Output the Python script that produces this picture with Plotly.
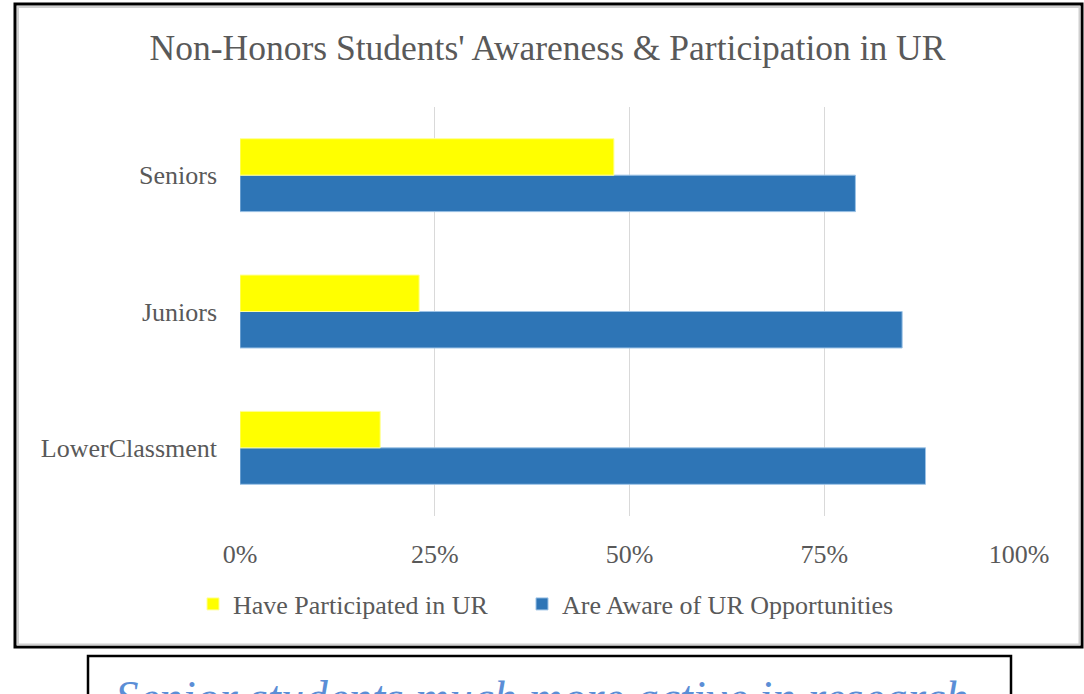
import plotly.graph_objects as go

categories = ["LowerClassment", "Juniors", "Seniors"]
participated = [0.18, 0.23, 0.48]
aware = [0.88, 0.85, 0.79]
series_names = ["Have Participated in UR", "Are Aware of UR Opportunities"]
tick_vals = [0, 0.25, 0.5, 0.75, 1.0]
tick_text = ["0%", "25%", "50%", "75%", "100%"]
title_text = "Non-Honors Students' Awareness & Participation in UR"
caption_text = "Senior students much more active in research"

W, H = 1084, 694
L, R, T, B = 240, 1019, 107, 516


def px(x):
    return (x - L) / (R - L)


def py(y):
    return (B - y) / (B - T)


FONT = "Liberation Serif, Times New Roman, serif"
GRAY = "#595959"

fig = go.Figure()
fig.add_trace(go.Bar(
    y=categories, x=aware, orientation="h", name=series_names[1],
    marker=dict(color="#2E75B6", line=dict(color="#9DC3E6", width=1)),
    legend="legend2",
))
fig.add_trace(go.Bar(
    y=categories, x=participated, orientation="h", name=series_names[0],
    marker=dict(color="#FFFF00", line=dict(color="#FFFF99", width=1)),
    legend="legend",
))

legend_style = dict(orientation="h", yanchor="middle", xanchor="left",
                    font=dict(family=FONT, size=26, color=GRAY),
                    bgcolor="rgba(0,0,0,0)", borderwidth=0)

fig.update_layout(
    width=W, height=H,
    margin=dict(l=L, r=W - R, t=T, b=H - B, pad=0),
    paper_bgcolor="white", plot_bgcolor="white",
    barmode="group", bargap=0.465, bargroupgap=0,
    font=dict(family=FONT, color=GRAY, size=26),
    title=dict(text=title_text, x=547.5 / W, xanchor="center",
               y=1 - 48 / H, yanchor="middle", xref="container", yref="container",
               font=dict(family=FONT, size=35.5, color=GRAY)),
    showlegend=True,
    legend=dict(x=px(193), y=py(604), **legend_style),
    legend2=dict(x=px(522), y=py(604), **legend_style),
    xaxis=dict(range=[0, 1], tickvals=tick_vals, ticktext=tick_text,
               showgrid=True, gridcolor="#D9D9D9", gridwidth=1,
               zeroline=False, showline=False, ticks="", ticklabelstandoff=20,
               tickfont=dict(family=FONT, size=26, color=GRAY)),
    yaxis=dict(showgrid=False, zeroline=False, showline=False, ticks="",
               ticklabelstandoff=22,
               tickfont=dict(family=FONT, size=26, color=GRAY)),
)

shapes = [
    # outer frame
    dict(type="rect", xref="paper", yref="paper",
         x0=px(15), x1=px(1082), y0=py(647), y1=py(4),
         line=dict(color="black", width=3), fillcolor="rgba(0,0,0,0)", layer="above"),
    dict(type="rect", xref="paper", yref="paper",
         x0=px(18), x1=px(1079.5), y0=py(644.5), y1=py(7),
         line=dict(color="#D0D0D0", width=2), fillcolor="rgba(0,0,0,0)", layer="above"),
    # caption box
    dict(type="rect", xref="paper", yref="paper",
         x0=px(88), x1=px(1011), y0=py(710), y1=py(656),
         line=dict(color="black", width=2.5), fillcolor="white", layer="above"),
]
fig.update_layout(shapes=shapes)

fig.add_annotation(
    text="<i>" + caption_text + "</i>", xref="paper", yref="paper",
    x=px(542), y=py(669), xanchor="center", yanchor="top", showarrow=False,
    font=dict(family=FONT, size=47, color="#5B8ED6"),
)

fig.write_html(
    "out.html",
    config={"displayModeBar": False},
    post_script="document.body.style.margin='0';document.body.style.overflow='hidden';",
)
